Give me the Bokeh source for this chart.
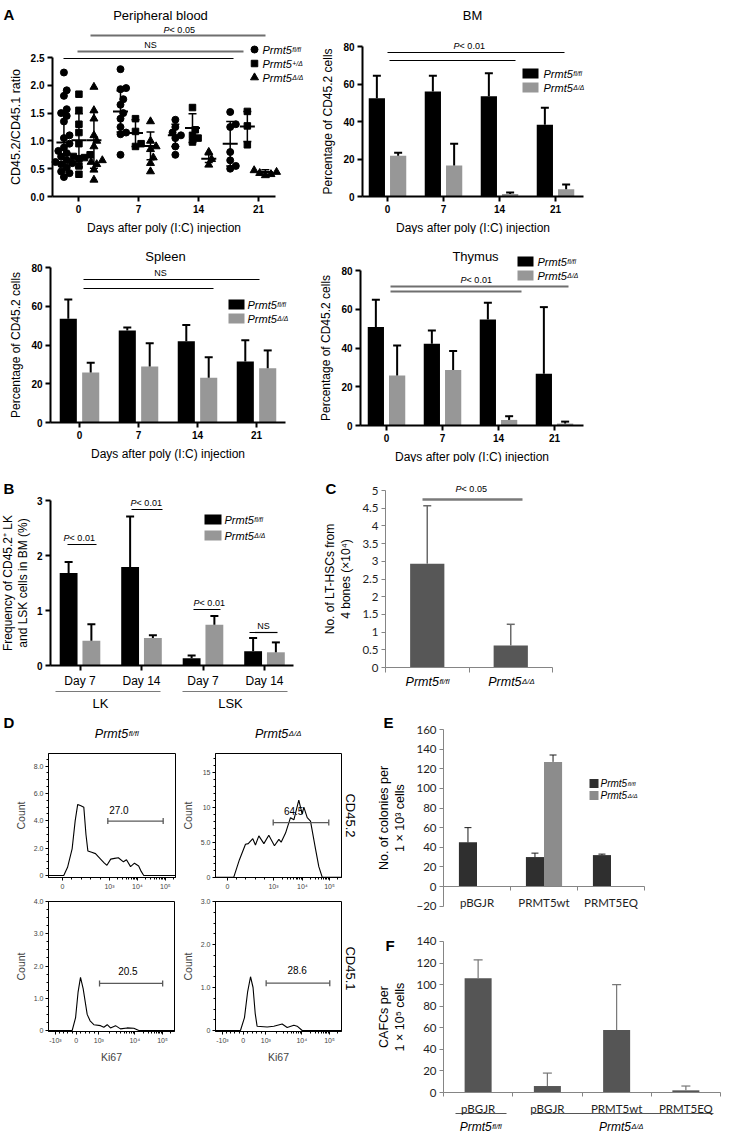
import math
from bokeh.plotting import figure
from bokeh.layouts import row, column
from bokeh.models import Range1d, FixedTicker
from bokeh.core.properties import value
from bokeh.embed import file_html
from bokeh.resources import INLINE

FONT = "Liberation Sans"
XLF = "Lato"

# ======================= DATA =======================
day_labels = ["0", "7", "14", "21"]
day_values = [0, 7, 14, 21]

# A - peripheral blood, CD45.2/CD45.1 ratio of individual mice
pb_flfl = [
    [2.23, 1.91, 1.81, 1.57, 1.50, 1.45, 1.35, 1.10, 1.05, 0.95, 0.88,
     0.82, 0.78, 0.72, 0.65, 0.62, 0.60, 0.58, 0.52, 0.45, 0.42, 0.35],
    [2.29, 1.95, 1.93, 1.75, 1.65, 1.50, 1.40, 1.25, 1.15, 1.12, 0.75],
    [1.38, 1.25, 1.15, 1.10, 1.05, 0.90, 0.75],
    [1.52, 1.30, 1.25, 0.80, 0.65, 0.55, 0.50],
]
pb_het = [
    [1.84, 1.55, 1.30, 1.15, 0.95, 0.75, 0.72, 0.70, 0.68, 0.55, 0.40],
    [1.40, 1.17, 0.95, 0.90],
    [1.60, 1.20, 1.10, 1.05, 0.98],
    [1.53, 1.27, 0.93],
]
pb_dd = [
    [1.97, 1.55, 1.40, 1.10, 1.00, 0.90, 0.65, 0.62, 0.58, 0.48, 0.30],
    [1.35, 1.00, 0.90, 0.85, 0.70, 0.60, 0.45],
    [0.80, 0.67, 0.57],
    [0.47, 0.44, 0.42, 0.40, 0.38],
]
pb_flfl_mean = [0.97, 1.53, 1.10, 0.95]
pb_flfl_sd = [0.53, 0.37, 0.20, 0.40]
pb_het_mean = [1.01, 1.14, 1.23, 1.26]
pb_het_sd = [0.48, 0.24, 0.26, 0.27]
pb_dd_mean = [1.01, 0.91, 0.68, 0.44]
pb_dd_sd = [0.50, 0.25, 0.07, 0.04]

# A - % CD45.2 cells (mean, SD)
bm_flfl = [52.4, 56.0, 53.5, 38.3]
bm_flfl_err = [12.0, 8.4, 12.3, 9.1]
bm_dd = [21.8, 16.5, 1.4, 3.9]
bm_dd_err = [1.5, 11.6, 0.7, 2.5]
spleen_flfl = [53.5, 47.5, 42.0, 31.5]
spleen_flfl_err = [10.0, 1.5, 8.3, 11.0]
spleen_dd = [25.8, 28.9, 23.1, 28.0]
spleen_dd_err = [5.0, 12.0, 10.6, 9.2]
thymus_flfl = [50.8, 42.2, 54.7, 26.7]
thymus_flfl_err = [14.1, 6.8, 8.6, 34.4]
thymus_dd = [25.8, 28.7, 2.9, 1.0]
thymus_dd_err = [15.5, 9.7, 1.9, 1.0]

# B - frequency of CD45.2+ LK / LSK cells in BM (%)
b_cats = ["Day 7", "Day 14", "Day 7", "Day 14"]
b_groups = ["LK", "LSK"]
b_flfl = [1.68, 1.79, 0.13, 0.26]
b_flfl_err = [0.20, 0.92, 0.05, 0.24]
b_dd = [0.45, 0.50, 0.74, 0.24]
b_dd_err = [0.30, 0.05, 0.16, 0.18]

# C - LT-HSCs from 4 bones (x10^4)
c_vals = [2.93, 0.62]
c_err = [1.64, 0.60]

# D - flow histograms (display channel, count)
d1_u = [0, 12, 15, 18.6, 21, 23, 25.5, 27.8, 29.5, 31, 34, 37, 41, 44, 46, 49, 52, 55, 59, 61.4, 64.6, 67.7, 71, 73, 75, 100]
d1_c = [0, 0, 0.6, 1.95, 4.0, 5.2, 5.1, 5.0, 3.0, 1.8, 1.7, 1.6, 1.2, 0.9, 0.75, 1.2, 1.25, 1.3, 1.0, 1.15, 0.65, 0.9, 0.7, 0.3, 0, 0]
d2_u = [0, 14.5, 19, 23.8, 26, 29.6, 31.7, 34.4, 38.4, 42.3, 46.8, 50.3, 52.1, 55.6, 59.5, 62.2, 66.1, 68.8, 70.1, 72.8, 75.4, 79.4, 82, 84.7, 100]
d2_c = [0, 0, 2.5, 4.7, 4.8, 5.5, 4.6, 5.9, 4.8, 6.0, 4.5, 5.4, 5.0, 6.3, 8.5, 8.2, 11.0, 9.0, 10.0, 8.5, 8.0, 4.0, 1.5, 0, 0]
d3_u = [0, 18.8, 21.5, 23.5, 25.4, 27.5, 30.7, 33, 36, 41.3, 43.9, 46.6, 49.2, 53.2, 57.1, 62.4, 67.7, 71.7, 100]
d3_c = [0, 0, 0.4, 1.2, 1.65, 1.3, 0.5, 0.3, 0.18, 0.15, 0.1, 0.18, 0.08, 0.15, 0.05, 0.08, 0.07, 0, 0]
d4_u = [0, 19.8, 23, 25.5, 27.8, 29.8, 31.5, 33, 41, 46.3, 52.9, 56.9, 62.2, 64.8, 68.8, 100]
d4_c = [0, 0, 0.3, 0.9, 1.25, 1.0, 0.4, 0.1, 0.08, 0.1, 0.15, 0.07, 0.12, 0.1, 0, 0]
d_gate_pct = ["27.0", "64.5", "20.5", "28.6"]

# E - colonies per 1x10^3 cells
e_cats = ["pBGJR", "PRMT5wt", "PRMT5EQ"]
e_flfl = [45, 30, 32]
e_flfl_err = [15, 4, 1]
e_dd = [0, 127, 0]
e_dd_err = [0, 7, 0]

# F - CAFCs per 1x10^5 cells
f_cats = ["pBGJR", "pBGJR", "PRMT5wt", "PRMT5EQ"]
f_vals = [106, 6, 58, 2]
f_err = [17, 12, 42, 4]

# ======================= HELPERS =======================
CW = {"f": 0.278, "l": 0.222, "/": 0.278, "+": 0.584, "Δ": 0.612, "P": 0.667,
      " ": 0.278, "<": 0.584, ".": 0.278}


def tw(s, size):
    return sum(CW.get(c, 0.556) for c in s) * size


def mkpanel(fig_box, xmap, ymap, yaxis_px=None, xaxis_py=None):
    """Figure whose frame fills the whole box; axes are fixed inside it."""
    fx0, fy0, fw, fh = fig_box
    px0, kx = xmap
    py0, ky = ymap

    def dx(px):
        return (px - px0) / kx

    def dy(py):
        return (py0 - py) / ky

    p = figure(width=fw, height=fh, x_range=Range1d(dx(fx0), dx(fx0 + fw)),
               y_range=Range1d(dy(fy0 + fh), dy(fy0)), output_backend="svg",
               toolbar_location=None, min_border_left=0, min_border_right=0,
               min_border_top=0, min_border_bottom=0)
    p.outline_line_color = None
    p.grid.visible = False
    p.background_fill_color = "white"
    p.border_fill_color = "white"
    p.yaxis.fixed_location = dx(yaxis_px)
    p.xaxis.fixed_location = dy(xaxis_py)
    return p, dx, dy


def put(p, x, y, s, size, align="center", baseline="middle", style="normal",
        font=FONT, color="black", angle=0.0, xo=0.0):
    p.text(x=[x], y=[y], text=[s], text_align=align, text_baseline=baseline,
           text_font=value(font), text_font_size=f"{size}px",
           text_font_style=style, text_color=color, angle=angle, x_offset=xo)


def geno(p, x, y, sup, size, align="left"):
    bw = 2.667 * size
    ss = round(size * 0.62, 1)
    sw = tw(sup, ss)
    x0 = -(bw + sw) / 2 if align == "center" else 0.0
    put(p, x, y, "Prmt5", size, "left", "middle", "italic", xo=x0)
    put(p, x, y, sup, ss, "left", "alphabetic", "italic", xo=x0 + bw + 0.5)


def ptext(p, x, y, rest, size=9):
    x0 = -tw("P" + rest, size) / 2
    put(p, x, y, "P", size, "left", "middle", "italic", xo=x0)
    put(p, x, y, rest, size, "left", "middle", "normal", xo=x0 + tw("P", size))


def hline(p, x0, x1, y, color="black", w=1.2):
    p.segment(x0=[x0], y0=[y], x1=[x1], y1=[y], line_color=color, line_width=w)


def prism_axes(p, xlabel=None, ylabel=None):
    for ax in p.axis:
        ax.axis_line_width = 2
        ax.axis_line_color = "black"
        ax.major_tick_line_width = 2
        ax.major_tick_line_color = "black"
        ax.major_tick_out = 5
        ax.major_tick_in = 0
        ax.minor_tick_line_color = None
        ax.major_label_text_font = FONT
        ax.major_label_text_font_size = "10px"
        ax.major_label_text_font_style = "bold"
        ax.major_label_text_color = "black"
        ax.major_label_standoff = 3
        ax.axis_label_text_font = FONT
        ax.axis_label_text_font_size = "12px"
        ax.axis_label_text_font_style = "normal"
        ax.axis_label_text_color = "black"
        ax.axis_label_standoff = 5
    p.xaxis.axis_label = xlabel
    p.yaxis.axis_label = ylabel


def excel_axes(p, ylabel):
    for ax in p.axis:
        ax.axis_line_color = "#858585"
        ax.axis_line_width = 1
        ax.major_tick_line_color = "#858585"
        ax.major_tick_out = 4
        ax.major_tick_in = 0
        ax.minor_tick_line_color = None
        ax.major_label_text_font = XLF
        ax.major_label_text_font_size = "11.5px"
        ax.major_label_text_color = "#1e1e1e"
        ax.major_label_standoff = 3
        ax.axis_label_text_font = FONT
        ax.axis_label_text_font_size = "12.5px"
        ax.axis_label_text_font_style = "normal"
        ax.axis_label_text_color = "black"
        ax.axis_label_standoff = 6
    p.yaxis.axis_label = ylabel


def dual_bars(p, a, a_err, b, b_err, off, w, ca="black", cb="#979797", cap=8):
    idx = list(range(len(a)))
    xa = [i - off for i in idx]
    xb = [i + off for i in idx]
    p.vbar(x=xa, top=a, width=w, fill_color=ca, line_color=None)
    p.vbar(x=xb, top=b, width=w, fill_color=cb, line_color=None)
    xs = xa + xb
    tops = list(a) + list(b)
    ends = [t + e for t, e in zip(tops, list(a_err) + list(b_err))]
    p.segment(x0=xs, y0=tops, x1=xs, y1=ends, line_color="black", line_width=2)
    p.scatter(x=xs, y=ends, marker="dash", size=cap, line_width=2, line_color="black")


def box_legend(p, xb, xt, ys, colors, sups, w=16, h=10, size=11):
    for y, c, s in zip(ys, colors, sups):
        p.rect(x=[xb], y=[y], width=w, height=h, width_units="screen",
               height_units="screen", fill_color=c, line_color=None)
        geno(p, xt, y, s, size)


def swarm(vals, center, kx, ky, d=5.6):
    placed = []
    out = [0.0] * len(vals)
    order = sorted(range(len(vals)), key=lambda i: vals[i])
    steps = [0.0]
    for j in range(1, 12):
        steps += [j * d * 0.5, -j * d * 0.5]
    for i in order:
        yy = vals[i] * ky
        c = 0.0
        for c in steps:
            if all((c - a) ** 2 + (yy - b) ** 2 >= d * d for a, b in placed):
                break
        placed.append((c, yy))
        out[i] = center + c / kx
    return out


def day_axis(p, bounds):
    p.xaxis.ticker = FixedTicker(ticks=[0, 1, 2, 3])
    p.xaxis.major_label_overrides = {i: s for i, s in enumerate(day_labels)}
    p.xaxis.bounds = bounds
    p.yaxis.ticker = FixedTicker(ticks=[0, 20, 40, 60, 80])
    p.yaxis.bounds = (0, 80)


XLAB = "Days after poly (I:C) injection"
YPCT = "Percentage of CD45.2 cells"
GRAY = "#979797"

# ======================= A: Peripheral blood =======================
pb, dx, dy = mkpanel((0, 0, 315, 234), (78, 8.571), (196, 55.6), yaxis_px=52, xaxis_py=196)
prism_axes(pb, XLAB, "CD45.2/CD45.1 ratio")
pb.yaxis.axis_label_text_font_size = "12.5px"
pb.xaxis.ticker = FixedTicker(ticks=day_values)
pb.xaxis.bounds = (dx(52), dx(275))
yt = [0, 0.5, 1.0, 1.5, 2.0, 2.5]
pb.yaxis.ticker = FixedTicker(ticks=yt)
pb.yaxis.major_label_overrides = {t: f"{t:.1f}" for t in yt}
pb.yaxis.bounds = (0, 2.5)

pb_cluster = {"flfl": [-1.7, 4.9, 11.3, 17.7], "het": [0.05, 6.65, 13.3, 19.7],
              "dd": [1.8, 8.4, 15.2, 21.8]}
series = [(pb_flfl, pb_flfl_mean, pb_flfl_sd, pb_cluster["flfl"], "circle", 7),
          (pb_het, pb_het_mean, pb_het_sd, pb_cluster["het"], "square", 6.5),
          (pb_dd, pb_dd_mean, pb_dd_sd, pb_cluster["dd"], "triangle", 8)]
for pts, mean, sd, cx, marker, msize in series:
    xs, ys = [], []
    for i in range(4):
        xs += swarm(pts[i], cx[i], 8.571, 55.6)
        ys += pts[i]
    pb.scatter(x=xs, y=ys, marker=marker, size=msize, fill_color="black", line_color="black")
    lo = [m - s for m, s in zip(mean, sd)]
    hi = [m + s for m, s in zip(mean, sd)]
    pb.segment(x0=cx, y0=lo, x1=cx, y1=hi, line_color="black", line_width=1.5)
    pb.scatter(x=cx, y=mean, marker="dash", size=15, line_width=2, line_color="black")
    pb.scatter(x=cx + cx, y=lo + hi, marker="dash", size=8, line_width=1.5, line_color="black")

put(pb, dx(160), dy(15), "Peripheral blood", 13)
ptext(pb, dx(180), dy(29), " < 0.05", 9)
hline(pb, dx(90), dx(265), dy(35), "#6f6f6f", 2)
put(pb, dx(150), dy(44), "NS", 9)
hline(pb, dx(77), dx(243), dy(51), "#6f6f6f", 2)
hline(pb, dx(63), dx(233), dy(58), "black", 1.2)
for py, marker, sup, ms in [(49, "circle", "fl/fl", 7), (63, "square", "+/Δ", 6.5), (77, "triangle", "Δ/Δ", 8)]:
    pb.scatter(x=[dx(254)], y=[dy(py)], marker=marker, size=ms, fill_color="black", line_color="black")
    geno(pb, dx(262), dy(py), sup, 11)
put(pb, dx(3), dy(14), "A", 15, "left", "middle", "bold")

# ======================= A: BM =======================
bm, dx, dy = mkpanel((315, 0, 414, 234), (387, 56), (196, 1.875), yaxis_px=362, xaxis_py=196)
prism_axes(bm, XLAB, YPCT)
day_axis(bm, (dx(362), dx(583)))
dual_bars(bm, bm_flfl, bm_flfl_err, bm_dd, bm_dd_err, 0.19, 0.29, cb=GRAY)
put(bm, dx(472), dy(15), "BM", 13)
ptext(bm, dx(470), dy(45), " < 0.01", 9)
hline(bm, dx(387), dx(564), dy(52))
hline(bm, dx(389), dx(515), dy(60))
box_legend(bm, dx(530), dx(543), [dy(73), dy(87)], ["black", GRAY], ["fl/fl", "Δ/Δ"])

# ======================= A: Spleen =======================
sp, dx, dy = mkpanel((0, 234, 315, 228), (79, 59), (422, 1.9375), yaxis_px=50, xaxis_py=422)
prism_axes(sp, XLAB, YPCT)
day_axis(sp, (dx(50), dx(285)))
dual_bars(sp, spleen_flfl, spleen_flfl_err, spleen_dd, spleen_dd_err, 0.19, 0.29, cb=GRAY)
put(sp, dx(165), dy(256), "Spleen", 13)
put(sp, dx(160), dy(272), "NS", 9)
hline(sp, dx(83), dx(259), dy(279))
hline(sp, dx(83), dx(213), dy(288))
box_legend(sp, dx(236), dx(247), [dy(304), dy(318)], ["black", GRAY], ["fl/fl", "Δ/Δ"])

# ======================= A: Thymus =======================
th, dx, dy = mkpanel((315, 234, 414, 228), (386, 56), (425, 1.9375), yaxis_px=360, xaxis_py=425)
prism_axes(th, XLAB, YPCT)
day_axis(th, (dx(360), dx(583)))
dual_bars(th, thymus_flfl, thymus_flfl_err, thymus_dd, thymus_dd_err, 0.19, 0.29, cb=GRAY)
put(th, dx(475), dy(256), "Thymus", 13)
ptext(th, dx(477), dy(279), " < 0.01", 9)
hline(th, dx(390), dx(568), dy(286), "#6f6f6f", 2)
hline(th, dx(390), dx(521), dy(291), "#6f6f6f", 2)
box_legend(th, dx(525), dx(537), [dy(261), dy(275)], ["black", GRAY], ["fl/fl", "Δ/Δ"])

# ======================= B =======================
pB, dx, dy = mkpanel((0, 462, 315, 250), (79.5, 61.5), (665, 55), yaxis_px=50, xaxis_py=665)
prism_axes(pB, None, "Frequency of CD45.2⁺ LK\nand LSK cells in BM (%)")
pB.yaxis.axis_label_text_font_size = "12px"
pB.yaxis.axis_label_text_line_height = 1.1
pB.yaxis.axis_label_standoff = 4
pB.xaxis.ticker = FixedTicker(ticks=[0, 1, 2, 3])
pB.xaxis.major_label_overrides = {i: s for i, s in enumerate(b_cats)}
pB.xaxis.major_label_text_font_style = "normal"
pB.xaxis.major_label_text_font_size = "12px"
pB.xaxis.bounds = (dx(50), dx(293))
pB.yaxis.ticker = FixedTicker(ticks=[0, 1, 2, 3])
pB.yaxis.bounds = (0, 3)
dual_bars(pB, b_flfl, b_flfl_err, b_dd, b_dd_err, 0.185, 0.29, cb=GRAY)
for (x0, x1, ly, tx, ty, txt) in [(67, 96, 544, 80, 537, "P"), (131, 162, 509, 147, 502, "P"),
                                  (193, 220, 609, 210, 602, "P"), (249, 277, 632, 263, 625, "NS")]:
    hline(pB, dx(x0), dx(x1), dy(ly), "black", 1.2)
    if txt == "P":
        ptext(pB, dx(tx), dy(ty), " < 0.01", 9)
    else:
        put(pB, dx(tx), dy(ty), "NS", 9)
hline(pB, dx(55), dx(160), dy(691), "#7a7a7a", 1.2)
hline(pB, dx(182), dx(287), dy(691), "#7a7a7a", 1.2)
put(pB, dx(100), dy(703), b_groups[0], 13)
put(pB, dx(230), dy(703), b_groups[1], 13)
box_legend(pB, dx(212.5), dx(224), [dy(519), dy(535)], ["black", GRAY], ["fl/fl", "Δ/Δ"], w=17)
put(pB, dx(3), dy(488), "B", 15, "left", "middle", "bold")

# ======================= C =======================
pC, dx, dy = mkpanel((315, 462, 414, 250), (385, 83.5), (667, 35.4), yaxis_px=385, xaxis_py=667)
excel_axes(pC, "No. of LT-HSCs from\n4 bones (×10⁴)")
pC.yaxis.axis_label_text_font_size = "12px"
pC.xaxis.ticker = FixedTicker(ticks=[0, 1, 2])
pC.xaxis.major_label_overrides = {0: "", 1: "", 2: ""}
pC.xaxis.major_tick_out = 5
pC.xaxis.bounds = (0, 2)
yt = [0, 0.5, 1, 1.5, 2, 2.5, 3, 3.5, 4, 4.5, 5]
pC.yaxis.ticker = FixedTicker(ticks=yt)
pC.yaxis.major_label_overrides = {t: f"{t:g}" for t in yt}
pC.yaxis.bounds = (0, 5)
cx = [i + 0.5 for i in range(len(c_vals))]
pC.vbar(x=cx, top=c_vals, width=0.41, fill_color="#575757", line_color=None)
ends = [v + e for v, e in zip(c_vals, c_err)]
pC.segment(x0=cx, y0=c_vals, x1=cx, y1=ends, line_color="#6a6a6a", line_width=1.5)
pC.scatter(x=cx, y=ends, marker="dash", size=8, line_width=1.5, line_color="#6a6a6a")
geno(pC, cx[0], dy(681), "fl/fl", 12.5, align="center")
geno(pC, cx[1], dy(681), "Δ/Δ", 12.5, align="center")
hline(pC, dx(422), dx(522), dy(499), "#7a7a7a", 2.5)
ptext(pC, dx(472), dy(488), " < 0.05", 9)
put(pC, dx(325), dy(488), "C", 15, "left", "middle", "bold")


# ======================= D =======================
def log_minor(a, b, upto=None):
    out = []
    for k in range(2, 10):
        v = a + (b - a) * math.log10(k)
        if upto is None or v <= upto:
            out.append(v)
    return out


def flow_panel(box, xmap, ymap, frame, u, c, xt, xl, yt_, yl, ymin, gate, lab, pct, xlabel):
    L, R, T, B = frame
    p, dx, dy = mkpanel(box, xmap, ymap, yaxis_px=L, xaxis_py=B)
    for ax in p.axis:
        ax.axis_line_color = "black"
        ax.axis_line_width = 1
        ax.major_tick_out = 3
        ax.major_tick_in = 0
        ax.minor_tick_out = 2
        ax.minor_tick_in = 0
        ax.major_tick_line_color = "black"
        ax.minor_tick_line_color = "black"
        ax.major_label_text_font = FONT
        ax.major_label_text_font_size = "7px"
        ax.major_label_standoff = 2
        ax.axis_label_text_font = FONT
        ax.axis_label_text_font_size = "10.5px"
        ax.axis_label_text_font_style = "normal"
        ax.axis_label_standoff = 4
    xminor = []
    for a, b in zip(xt[:-1], xt[1:]):
        if xl[xt.index(a)] in ("0", "-10³"):
            xminor += [a + (b - a) * k / 5 for k in range(1, 5)]
        else:
            xminor += log_minor(a, b)
    xminor += log_minor(xt[-1], xt[-1] + (xt[-1] - xt[-2]), upto=100)
    p.xaxis.ticker = FixedTicker(ticks=xt, minor_ticks=xminor)
    p.xaxis.major_label_overrides = dict(zip(xt, xl))
    p.xaxis.bounds = (dx(L), dx(R))
    p.yaxis.ticker = FixedTicker(ticks=yt_, minor_ticks=[m for m in ymin if m <= dy(T)])
    p.yaxis.major_label_overrides = dict(zip(yt_, yl))
    p.yaxis.bounds = (dy(B), dy(T))
    p.yaxis.axis_label = "Count"
    p.xaxis.axis_label = xlabel
    # frame box (top and right edges)
    p.quad(left=[dx(L)], right=[dx(R)], bottom=[dy(B)], top=[dy(T)],
           fill_color=None, line_color="black", line_width=1)
    p.line(x=u, y=c, line_color="black", line_width=1.1)
    g0, g1, gy = gate
    hline(p, g0, g1, gy, "#5a5a5a", 1.3)
    p.scatter(x=[g0, g1], y=[gy, gy], marker="dash", angle=math.pi / 2, size=6,
              line_color="#5a5a5a", line_width=1.3)
    put(p, lab[0], lab[1], pct, 10)
    return p, dx, dy


top_xt1 = [11, 48, 70, 92]
top_xt2 = [9.5, 46, 69, 90.5]
top_xl = ["0", "10³", "10⁴", "10⁵"]
bot_xt = [5.5, 22, 40, 68.5, 90.5]
bot_xl = ["-10³", "0", "10³", "10⁴", "10⁵"]

d1, dx1, dy1 = flow_panel((0, 712, 180, 178), (48, 1.27), (875, 13.67), (48, 175, 753, 877),
                          d1_u, d1_c, top_xt1, top_xl, [0, 2, 4, 6, 8], ["0", "2.0", "4.0", "6.0", "8.0"],
                          [i * 0.5 for i in range(18)], (46.7, 90.3, 3.98), (55.4, 4.8),
                          d_gate_pct[0], None)
d2, dx2, dy2 = flow_panel((180, 712, 185, 178), (215, 1.26), (876.7, 7.0), (215, 341, 753, 877),
                          d2_u, d2_c, top_xt2, top_xl, [0, 5, 10, 15], ["0", "5.0", "10", "15"],
                          list(range(18)), (45.8, 89.9, 7.8), (62, 9.5),
                          d_gate_pct[1], None)
d3, dx3, dy3 = flow_panel((0, 890, 180, 172), (48, 1.26), (1030, 32.25), (48, 174, 901, 1031),
                          d3_u, d3_c, bot_xt, bot_xl, [0, 1, 2, 3, 4], ["0", "1.0", "2.0", "3.0", "4.0"],
                          [i * 0.25 for i in range(17)], (40.5, 90.6, 1.46), (63, 1.86),
                          d_gate_pct[2], "Ki67")
d4, dx4, dy4 = flow_panel((180, 890, 185, 172), (215, 1.26), (1030, 43), (215, 341, 901, 1031),
                          d4_u, d4_c, bot_xt, bot_xl, [0, 1, 2, 3], ["0", "1.0", "2.0", "3.0"],
                          [i * 0.25 for i in range(13)], (40.2, 90.7, 1.10), (64.8, 1.4),
                          d_gate_pct[3], "Ki67")
geno(d1, dx1(116), dy1(733), "fl/fl", 12.5, align="center")
geno(d2, dx2(277), dy2(733), "Δ/Δ", 12.5, align="center")
put(d1, dx1(3), dy1(722), "D", 15, "left", "middle", "bold")
put(d2, dx2(350), dy2(815), "CD45.2", 13, "center", "middle", angle=-math.pi / 2)
put(d4, dx4(350), dy4(968), "CD45.1", 13, "center", "middle", angle=-math.pi / 2)

# ======================= E =======================
pE, dx, dy = mkpanel((365, 712, 364, 202), (443, 67), (886, 0.98125), yaxis_px=443, xaxis_py=886)
excel_axes(pE, "No. of colonies per\n1 × 10³ cells")
ect = [i + 0.5 for i in range(len(e_cats))]
pE.xaxis.ticker = FixedTicker(ticks=ect, minor_ticks=[0, 1, 2, 3])
pE.xaxis.major_label_overrides = dict(zip(ect, e_cats))
pE.xaxis.major_tick_out = 0
pE.xaxis.minor_tick_out = 4
pE.xaxis.minor_tick_in = 0
pE.xaxis.minor_tick_line_color = "#858585"
pE.xaxis.major_label_standoff = 5
pE.xaxis.bounds = (0, 3)
pE.yaxis.ticker = FixedTicker(ticks=list(range(-20, 161, 20)))
pE.yaxis.bounds = (-20, 160)
xa = [x - 0.135 for x in ect]
xb = [x + 0.135 for x in ect]
pE.vbar(x=xa, top=e_flfl, width=0.27, fill_color="#2f2f2f", line_color=None)
pE.vbar(x=xb, top=e_dd, width=0.27, fill_color="#8c8c8c", line_color=None)
exs = xa + xb
etop = e_flfl + e_dd
eend = [t + e for t, e in zip(etop, e_flfl_err + e_dd_err)]
pE.segment(x0=exs, y0=etop, x1=exs, y1=eend, line_color="#1a1a1a", line_width=1)
pE.scatter(x=exs, y=eend, marker="dash", size=7, line_width=1, line_color="#1a1a1a")
box_legend(pE, dx(593.5), dx(600), [dy(783), dy(795)], ["#2f2f2f", "#8c8c8c"], ["fl/fl", "Δ/Δ"],
           w=9, h=9, size=10)
put(pE, dx(383), dy(722), "E", 15, "left", "middle", "bold")

# ======================= F =======================
pF, dx, dy = mkpanel((365, 914, 364, 222), (443, 69.25), (1092, 1.0786), yaxis_px=443, xaxis_py=1092)
excel_axes(pF, "CAFCs per\n1 × 10⁵ cells")
fct = [i + 0.5 for i in range(len(f_cats))]
pF.xaxis.ticker = FixedTicker(ticks=fct, minor_ticks=[0, 1, 2, 3, 4])
pF.xaxis.major_label_overrides = dict(zip(fct, f_cats))
pF.xaxis.major_tick_out = 0
pF.xaxis.minor_tick_out = 4
pF.xaxis.minor_tick_in = 0
pF.xaxis.minor_tick_line_color = "#858585"
pF.xaxis.major_label_standoff = 5
pF.xaxis.bounds = (0, 4)
pF.yaxis.ticker = FixedTicker(ticks=list(range(0, 141, 20)))
pF.yaxis.bounds = (0, 140)
pF.vbar(x=fct, top=f_vals, width=0.39, fill_color="#555555", line_color=None)
fend = [v + e for v, e in zip(f_vals, f_err)]
pF.segment(x0=fct, y0=f_vals, x1=fct, y1=fend, line_color="#777777", line_width=1.2)
pF.scatter(x=fct, y=fend, marker="dash", size=9, line_width=1.2, line_color="#777777")
hline(pF, dx(455), dx(506), dy(1113), "#555555", 1.2)
hline(pF, dx(532), dx(713), dy(1113), "#555555", 1.2)
geno(pF, dx(480), dy(1126), "fl/fl", 12, align="center")
geno(pF, dx(620), dy(1126), "Δ/Δ", 12, align="center")
put(pF, dx(385), dy(945), "F", 15, "left", "middle", "bold")

# ======================= LAYOUT =======================
layout = column(
    row(pb, bm),
    row(sp, th),
    row(pB, pC),
    row(column(row(d1, d2), row(d3, d4)), column(pE, pF)),
)

open("out.html", "w").write(file_html(layout, INLINE, title="Prmt5 figure"))
